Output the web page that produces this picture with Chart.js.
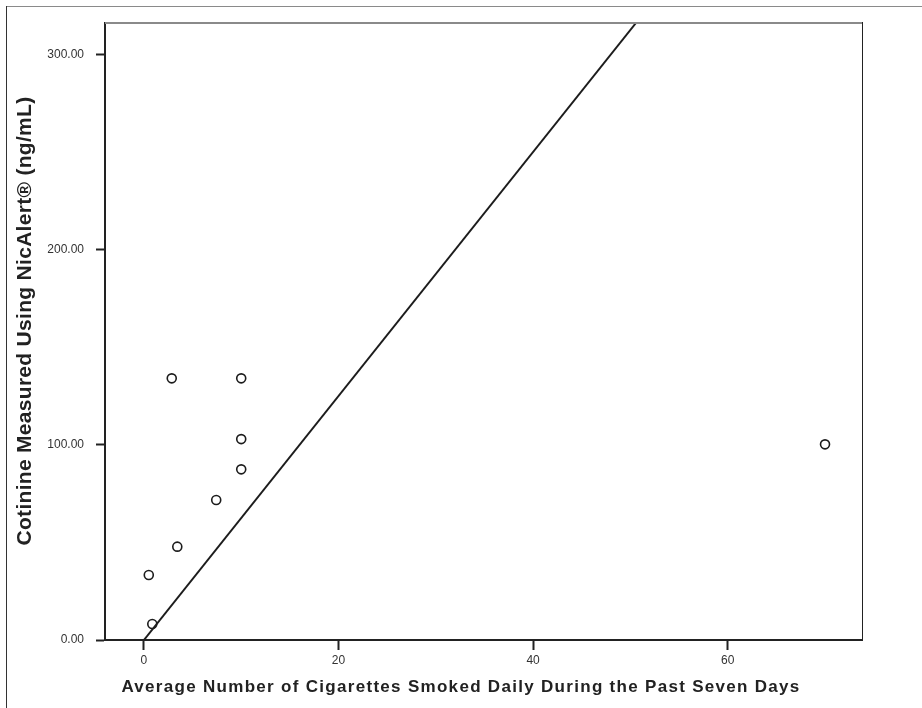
<!DOCTYPE html>
<html>
<head>
<meta charset="utf-8">
<script src="https://cdn.jsdelivr.net/npm/chart.js@4/dist/chart.umd.min.js"></script>
<style>
  html, body { margin: 0; padding: 0; background: #ffffff; }
  #wrap { width: 922px; height: 708px; position: relative; }
</style>
</head>
<body>
<div id="wrap"><canvas id="chart" width="922" height="708"></canvas></div>
<script>
// Cigarettes smoked per day (7-day average) vs. NicAlert cotinine
const cigsPerDay = [2.86, 10, 10, 10, 7.43, 3.43, 0.5, 0.86, 70];
const cotinine   = [134.0, 134.0, 102.9, 87.4, 71.7, 47.8, 33.3, 8.2, 100.2];

// Fitted line endpoints (through the origin)
const fitX = [0, 50.57];
const fitY = [0, 316];

// Axis ticks and ranges
const xTicks = [0, 20, 40, 60];
const yTicks = [0, 100, 200, 300];
const xRange = [-4, 73.8];
const yRange = [0, 316];

const xTitle = 'Average Number of Cigarettes Smoked Daily During the Past Seven Days';
const yTitle = 'Cotinine Measured Using NicAlert® (ng/mL)';

const FONT = '"Liberation Sans", Arial, Helvetica, sans-serif';

const points = cigsPerDay.map((x, i) => ({ x: x, y: cotinine[i] }));
const fitLine = fitX.map((x, i) => ({ x: x, y: fitY[i] }));

// Outer frame, plot frame edges and the axis captions
const framePlugin = {
  id: 'frame',
  beforeDraw(chart) {
    const ctx = chart.ctx;
    ctx.save();
    ctx.fillStyle = '#ffffff';
    ctx.fillRect(0, 0, chart.width, chart.height);
    ctx.lineWidth = 1;
    ctx.strokeStyle = '#8a8a8a';
    ctx.beginPath();
    ctx.moveTo(6, 6.5);
    ctx.lineTo(chart.width, 6.5);
    ctx.stroke();
    ctx.strokeStyle = '#333333';
    ctx.beginPath();
    ctx.moveTo(6.5, 6);
    ctx.lineTo(6.5, chart.height);
    ctx.stroke();
    ctx.restore();
  },
  afterDraw(chart) {
    const ctx = chart.ctx;
    const a = chart.chartArea;
    ctx.save();
    // top edge of the plot frame
    ctx.strokeStyle = '#8a8a8a';
    ctx.lineWidth = 2;
    ctx.beginPath();
    ctx.moveTo(a.left, a.top);
    ctx.lineTo(a.right, a.top);
    ctx.stroke();
    // right edge of the plot frame
    ctx.strokeStyle = '#222222';
    ctx.lineWidth = 1;
    ctx.beginPath();
    ctx.moveTo(a.right + 0.5, a.top - 1);
    ctx.lineTo(a.right + 0.5, a.bottom);
    ctx.stroke();

    // x-axis caption, centred on the page
    ctx.fillStyle = '#222222';
    ctx.font = 'bold 17px ' + FONT;
    ctx.textAlign = 'center';
    ctx.textBaseline = 'middle';
    ctx.letterSpacing = '1.3px';
    ctx.fillText(xTitle, chart.width / 2, 687);

    // y-axis caption, rotated
    ctx.letterSpacing = '0.3px';
    ctx.font = 'bold 21px ' + FONT;
    ctx.translate(25, 321);
    ctx.rotate(-Math.PI / 2);
    ctx.fillText(yTitle, 0, 0);
    ctx.restore();
  }
};

new Chart(document.getElementById('chart'), {
  type: 'scatter',
  data: {
    datasets: [
      {
        label: 'Fit',
        data: fitLine,
        showLine: true,
        borderColor: '#1c1c1c',
        borderWidth: 2,
        pointRadius: 0,
        fill: false,
        order: 2
      },
      {
        label: 'Participants',
        data: points,
        pointStyle: 'circle',
        pointRadius: 4.5,
        pointBorderWidth: 1.6,
        pointBorderColor: '#1c1c1c',
        pointBackgroundColor: 'rgba(255,255,255,0)',
        showLine: false,
        order: 1
      }
    ]
  },
  plugins: [framePlugin],
  options: {
    responsive: false,
    animation: false,
    layout: { padding: { left: 0, top: 23, right: 60, bottom: 0 } },
    plugins: {
      legend: { display: false },
      tooltip: { enabled: false },
      title: { display: false }
    },
    scales: {
      x: {
        type: 'linear',
        min: xRange[0],
        max: xRange[1],
        afterBuildTicks: (s) => { s.ticks = xTicks.map(v => ({ value: v })); },
        afterFit: (s) => { s.height = 68; },
        border: { display: true, color: '#222222', width: 2 },
        grid: {
          drawOnChartArea: false,
          drawTicks: true,
          tickLength: 10,
          tickWidth: 2,
          tickColor: '#222222'
        },
        ticks: {
          color: '#333333',
          font: { family: FONT, size: 12 },
          padding: 3,
          maxRotation: 0,
          autoSkip: false,
          callback: (v) => String(v)
        }
      },
      y: {
        type: 'linear',
        min: yRange[0],
        max: yRange[1],
        afterBuildTicks: (s) => { s.ticks = yTicks.map(v => ({ value: v })); },
        afterFit: (s) => { s.width = 105; },
        border: { display: true, color: '#222222', width: 2 },
        grid: {
          drawOnChartArea: false,
          drawTicks: true,
          tickLength: 9,
          tickWidth: 2,
          tickColor: '#222222'
        },
        ticks: {
          color: '#333333',
          font: { family: FONT, size: 12 },
          padding: 12,
          autoSkip: false,
          callback: (v) => Number(v).toFixed(2)
        }
      }
    }
  }
});
</script>
</body>
</html>
